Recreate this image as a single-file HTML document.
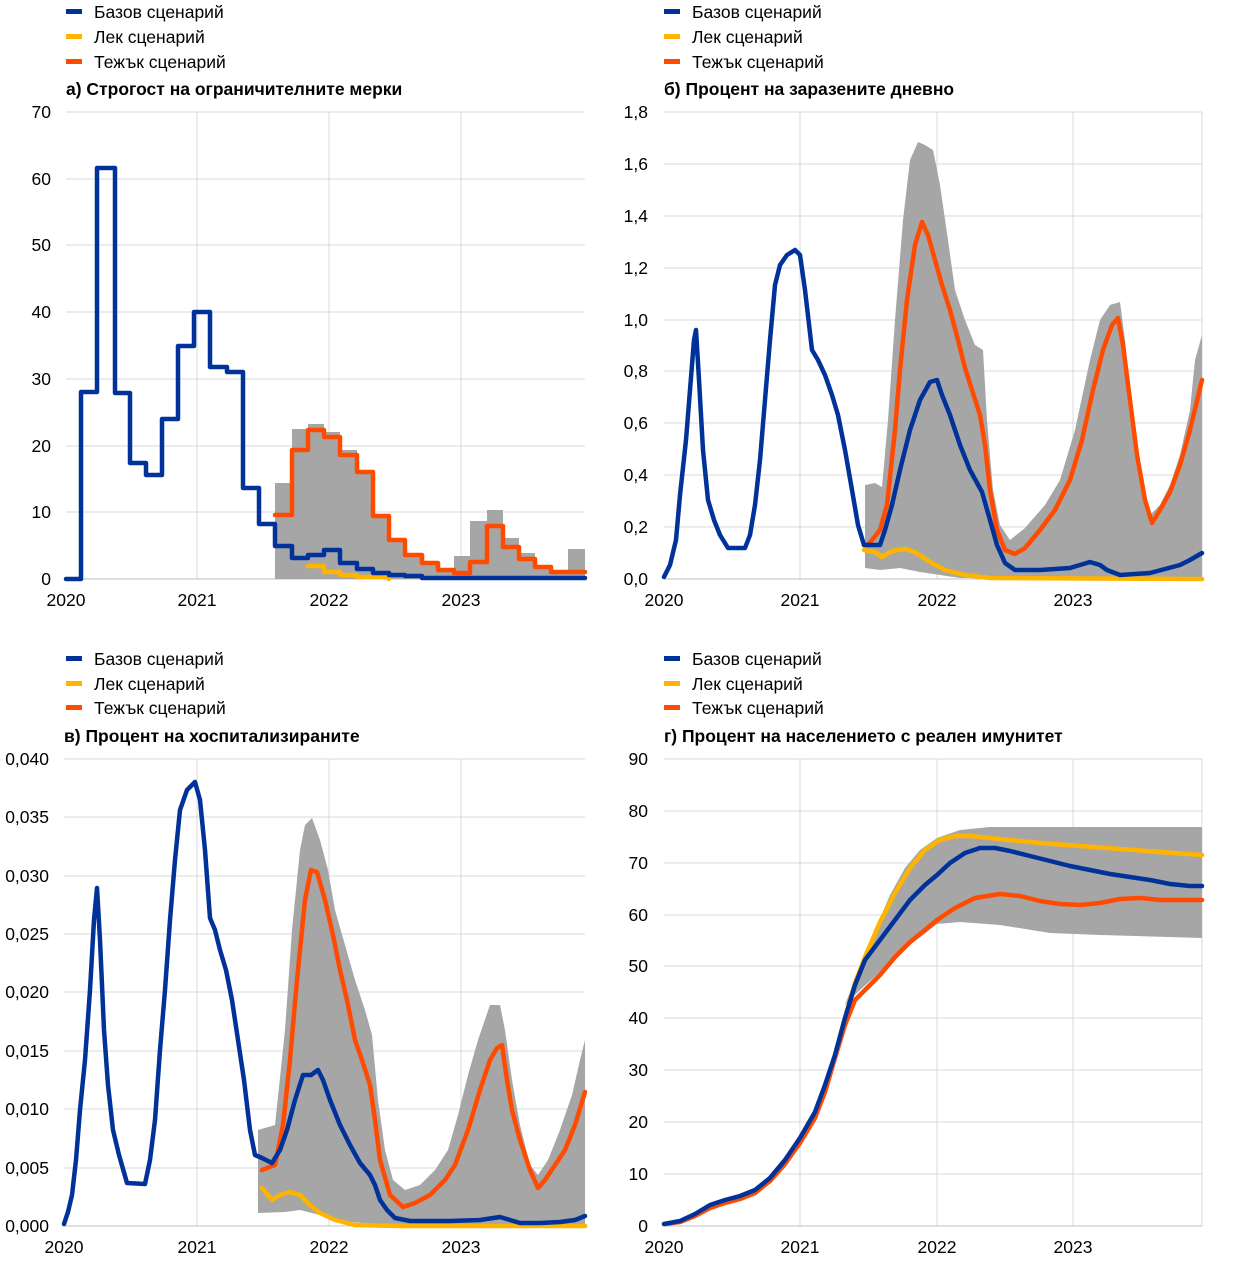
<!DOCTYPE html>
<html><head><meta charset="utf-8"><style>
html,body{margin:0;padding:0;background:#fff}
svg text{font-family:"Liberation Sans",sans-serif;font-size:17.5px;fill:#000}
.t{font-weight:bold;font-size:17.5px}
.g{stroke:#d9d9d9;stroke-width:1}
.l{fill:none;stroke-width:4.5;stroke-linejoin:round;stroke-linecap:round}
</style></head><body>
<svg width="1240" height="1270" viewBox="0 0 1240 1270" xmlns="http://www.w3.org/2000/svg">
<g>
<rect x="66" y="9" width="16" height="5" fill="#003299"/><text x="94" y="18">Базов сценарий</text>
<rect x="66" y="34" width="16" height="5" fill="#ffb400"/><text x="94" y="43">Лек сценарий</text>
<rect x="66" y="59" width="16" height="5" fill="#ff4b00"/><text x="94" y="68">Тежък сценарий</text>
<text class="t" x="66" y="95">а) Строгост на ограничителните мерки</text>
<rect x="664" y="9" width="16" height="5" fill="#003299"/><text x="692" y="18">Базов сценарий</text>
<rect x="664" y="34" width="16" height="5" fill="#ffb400"/><text x="692" y="43">Лек сценарий</text>
<rect x="664" y="59" width="16" height="5" fill="#ff4b00"/><text x="692" y="68">Тежък сценарий</text>
<text class="t" x="664" y="95">б) Процент на заразените дневно</text>
<rect x="66" y="656" width="16" height="5" fill="#003299"/><text x="94" y="665">Базов сценарий</text>
<rect x="66" y="681" width="16" height="5" fill="#ffb400"/><text x="94" y="690">Лек сценарий</text>
<rect x="66" y="705" width="16" height="5" fill="#ff4b00"/><text x="94" y="714">Тежък сценарий</text>
<text class="t" x="64" y="742">в) Процент на хоспитализираните</text>
<rect x="664" y="656" width="16" height="5" fill="#003299"/><text x="692" y="665">Базов сценарий</text>
<rect x="664" y="681" width="16" height="5" fill="#ffb400"/><text x="692" y="690">Лек сценарий</text>
<rect x="664" y="705" width="16" height="5" fill="#ff4b00"/><text x="692" y="714">Тежък сценарий</text>
<text class="t" x="664" y="742">г) Процент на населението с реален имунитет</text>
</g>

<!-- Panel a -->
<g>
<g class="g">
<line x1="66" y1="112" x2="585" y2="112"/><line x1="66" y1="179" x2="585" y2="179"/><line x1="66" y1="245" x2="585" y2="245"/><line x1="66" y1="312" x2="585" y2="312"/><line x1="66" y1="379" x2="585" y2="379"/><line x1="66" y1="446" x2="585" y2="446"/><line x1="66" y1="512" x2="585" y2="512"/>
<line x1="197" y1="112" x2="197" y2="579"/><line x1="329" y1="112" x2="329" y2="579"/><line x1="461" y1="112" x2="461" y2="579"/>
</g>
<line x1="66" y1="579" x2="585" y2="579" stroke="#bfbfbf"/>
<g text-anchor="end"><text x="51" y="118">70</text><text x="51" y="185">60</text><text x="51" y="251">50</text><text x="51" y="318">40</text><text x="51" y="385">30</text><text x="51" y="452">20</text><text x="51" y="518">10</text><text x="51" y="585">0</text></g>
<g text-anchor="middle"><text x="66" y="606">2020</text><text x="197" y="606">2021</text><text x="329" y="606">2022</text><text x="461" y="606">2023</text></g>
<polygon fill="#a6a6a6" points="275,579 275,483 292,483 292,429 308,429 308,424 324,424 324,432 340,432 340,450 357,450 357,470 373,470 373,515 389,515 389,540 405,540 405,555 422,555 422,563 438,563 438,570 454,570 454,556 470,556 470,521 487,521 487,510 503,510 503,538 519,538 519,553 535,553 535,565 551,565 551,570 568,570 568,549 585,549 585,579"/>
<polyline class="l" stroke="#ffb400" points="308,566 324,566 324,572 340,572 340,575 357,575 357,577 389,577 389,579"/>
<polyline class="l" stroke="#ff4b00" points="275,515 292,515 292,450 308,450 308,430 324,430 324,437 340,437 340,455 357,455 357,472 373,472 373,516 389,516 389,540 405,540 405,555 422,555 422,563 438,563 438,570 454,570 454,573 470,573 470,562 487,562 487,526 503,526 503,547 519,547 519,559 535,559 535,567 551,567 551,572 585,572"/>
<polyline class="l" stroke="#003299" points="66,579 81,579 81,392 97,392 97,168 115,168 115,393 130,393 130,463 146,463 146,475 162,475 162,419 178,419 178,346 194,346 194,312 210,312 210,367 227,367 227,372 243,372 243,488 259,488 259,524 275,524 275,546 292,546 292,558 308,558 308,555 324,555 324,550 340,550 340,563 357,563 357,569 373,569 373,573 389,573 389,575 405,575 405,576 422,576 422,578 585,578"/>
</g>

<!-- Panel b -->
<g>
<g class="g">
<line x1="664" y1="112" x2="1202" y2="112"/><line x1="664" y1="164" x2="1202" y2="164"/><line x1="664" y1="216" x2="1202" y2="216"/><line x1="664" y1="268" x2="1202" y2="268"/><line x1="664" y1="320" x2="1202" y2="320"/><line x1="664" y1="371" x2="1202" y2="371"/><line x1="664" y1="423" x2="1202" y2="423"/><line x1="664" y1="475" x2="1202" y2="475"/><line x1="664" y1="527" x2="1202" y2="527"/>
<line x1="800" y1="112" x2="800" y2="579"/><line x1="937" y1="112" x2="937" y2="579"/><line x1="1073" y1="112" x2="1073" y2="579"/><line x1="1202" y1="112" x2="1202" y2="579"/>
</g>
<line x1="664" y1="579" x2="1202" y2="579" stroke="#bfbfbf"/>
<g text-anchor="end"><text x="648" y="118">1,8</text><text x="648" y="170">1,6</text><text x="648" y="222">1,4</text><text x="648" y="274">1,2</text><text x="648" y="326">1,0</text><text x="648" y="377">0,8</text><text x="648" y="429">0,6</text><text x="648" y="481">0,4</text><text x="648" y="533">0,2</text><text x="648" y="585">0,0</text></g>
<g text-anchor="middle"><text x="664" y="606">2020</text><text x="800" y="606">2021</text><text x="937" y="606">2022</text><text x="1073" y="606">2023</text></g>
<polygon fill="#a6a6a6" points="865,485 875,483 882,487 888,420 895,320 903,220 910,160 918,142 925,145 933,150 940,185 948,240 955,290 965,320 975,345 983,350 987,420 993,490 1000,525 1010,540 1025,528 1045,505 1060,480 1075,430 1090,360 1100,320 1110,305 1120,302 1125,340 1133,420 1140,480 1150,515 1160,505 1170,485 1180,455 1190,410 1195,360 1202,335 1202,579 960,578 920,572 900,568 880,570 865,568"/>
<polyline class="l" stroke="#ffb400" points="864,550 875,552 882,557 892,551 905,549 915,552 930,562 945,570 965,575 990,578 1202,579"/>
<polyline class="l" stroke="#ff4b00" points="864,545 868,545 880,530 887,505 895,430 900,370 907,300 915,245 922,222 928,235 935,260 942,285 950,310 958,340 965,368 972,390 980,415 985,445 990,490 997,530 1005,550 1015,554 1025,548 1040,530 1055,510 1070,480 1082,440 1093,390 1103,350 1112,325 1118,318 1123,345 1130,400 1137,455 1145,500 1152,523 1160,510 1170,492 1180,465 1190,430 1202,380"/>
<polyline class="l" stroke="#003299" points="664,577 670,565 676,540 680,495 686,440 690,390 694,340 696,330 699,380 703,450 708,500 714,520 720,535 728,548 745,548 750,535 755,505 760,460 765,400 770,340 775,285 780,265 787,255 795,250 800,255 805,290 812,350 818,360 825,375 832,395 838,415 845,450 852,490 858,525 864,545 872,545 880,545 885,530 892,505 900,470 910,430 920,400 930,382 937,380 942,395 950,415 960,445 970,470 982,492 990,520 997,545 1005,563 1015,570 1040,570 1070,568 1090,562 1100,565 1107,570 1120,575 1150,573 1180,565 1190,560 1202,553"/>
</g>

<!-- Panel c -->
<g>
<g class="g">
<line x1="64" y1="759" x2="585" y2="759"/><line x1="64" y1="817" x2="585" y2="817"/><line x1="64" y1="876" x2="585" y2="876"/><line x1="64" y1="934" x2="585" y2="934"/><line x1="64" y1="992" x2="585" y2="992"/><line x1="64" y1="1051" x2="585" y2="1051"/><line x1="64" y1="1109" x2="585" y2="1109"/><line x1="64" y1="1168" x2="585" y2="1168"/>
<line x1="197" y1="759" x2="197" y2="1226"/><line x1="329" y1="759" x2="329" y2="1226"/><line x1="461" y1="759" x2="461" y2="1226"/>
</g>
<line x1="64" y1="1226" x2="585" y2="1226" stroke="#bfbfbf"/>
<g text-anchor="end"><text x="49" y="765">0,040</text><text x="49" y="823">0,035</text><text x="49" y="882">0,030</text><text x="49" y="940">0,025</text><text x="49" y="998">0,020</text><text x="49" y="1057">0,015</text><text x="49" y="1115">0,010</text><text x="49" y="1174">0,005</text><text x="49" y="1232">0,000</text></g>
<g text-anchor="middle"><text x="64" y="1253">2020</text><text x="197" y="1253">2021</text><text x="329" y="1253">2022</text><text x="461" y="1253">2023</text></g>
<polygon fill="#a6a6a6" points="258,1130 275,1125 285,1030 292,930 300,850 305,825 312,818 320,840 328,870 335,910 345,945 355,980 365,1010 372,1035 378,1100 385,1150 393,1180 405,1190 420,1185 435,1170 448,1150 458,1115 468,1075 478,1040 490,1005 500,1005 505,1030 512,1080 520,1125 530,1165 538,1175 548,1160 560,1130 572,1095 580,1060 585,1040 585,1226 400,1226 350,1222 320,1215 300,1210 285,1212 258,1213"/>
<polyline class="l" stroke="#ffb400" points="262,1188 272,1200 280,1195 290,1192 300,1195 310,1205 320,1213 335,1220 355,1225 400,1226 585,1226"/>
<polyline class="l" stroke="#ff4b00" points="262,1170 275,1165 283,1125 290,1060 297,980 305,900 311,870 317,872 325,900 333,935 340,970 347,1000 355,1040 362,1060 370,1085 375,1120 380,1160 390,1195 403,1207 415,1203 430,1195 445,1180 455,1165 468,1130 480,1090 490,1060 497,1048 502,1045 507,1080 512,1110 520,1140 530,1170 538,1188 545,1180 555,1165 565,1150 575,1125 585,1092"/>
<polyline class="l" stroke="#003299" points="64,1224 68,1212 72,1195 76,1160 80,1110 85,1060 90,990 94,920 97,888 100,940 104,1030 108,1085 113,1130 119,1155 127,1183 145,1184 150,1160 155,1120 160,1050 165,990 170,920 175,860 180,810 187,790 195,782 200,800 205,850 210,918 215,930 220,950 226,970 232,1000 238,1040 244,1080 250,1130 255,1155 262,1158 272,1163 280,1150 287,1130 295,1100 303,1075 311,1075 318,1070 323,1080 330,1100 340,1125 350,1145 360,1163 370,1175 375,1185 380,1200 387,1210 395,1218 410,1221 450,1221 480,1220 500,1217 510,1220 520,1223 540,1223 560,1222 575,1220 585,1216"/>
</g>

<!-- Panel d -->
<g>
<g class="g">
<line x1="664" y1="759" x2="1202" y2="759"/><line x1="664" y1="811" x2="1202" y2="811"/><line x1="664" y1="863" x2="1202" y2="863"/><line x1="664" y1="915" x2="1202" y2="915"/><line x1="664" y1="966" x2="1202" y2="966"/><line x1="664" y1="1018" x2="1202" y2="1018"/><line x1="664" y1="1070" x2="1202" y2="1070"/><line x1="664" y1="1122" x2="1202" y2="1122"/><line x1="664" y1="1174" x2="1202" y2="1174"/>
<line x1="800" y1="759" x2="800" y2="1226"/><line x1="937" y1="759" x2="937" y2="1226"/><line x1="1073" y1="759" x2="1073" y2="1226"/><line x1="1202" y1="759" x2="1202" y2="1226"/>
</g>
<line x1="664" y1="1226" x2="1202" y2="1226" stroke="#bfbfbf"/>
<g text-anchor="end"><text x="648" y="765">90</text><text x="648" y="817">80</text><text x="648" y="869">70</text><text x="648" y="921">60</text><text x="648" y="972">50</text><text x="648" y="1024">40</text><text x="648" y="1076">30</text><text x="648" y="1128">20</text><text x="648" y="1180">10</text><text x="648" y="1232">0</text></g>
<g text-anchor="middle"><text x="664" y="1253">2020</text><text x="800" y="1253">2021</text><text x="937" y="1253">2022</text><text x="1073" y="1253">2023</text></g>
<polygon fill="#a6a6a6" points="845,1005 860,965 875,930 890,895 905,868 920,850 937,838 960,830 990,827 1202,827 1202,938 1100,935 1050,933 1000,925 960,922 937,924 910,945 880,972 860,990"/>
<polyline class="l" stroke="#ff4b00" points="664,1224 680,1222 695,1216 710,1208 725,1203 740,1199 755,1193 770,1181 785,1164 800,1143 815,1118 825,1092 835,1058 845,1025 855,1000 865,990 880,975 895,957 910,942 925,930 937,920 955,908 975,898 1000,894 1020,896 1040,901 1060,904 1080,905 1100,903 1120,899 1140,898 1160,900 1202,900"/>
<polyline class="l" stroke="#ffb400" points="835,1055 845,1018 855,983 865,957 880,922 895,893 910,868 925,850 940,840 955,836 970,836 1000,839 1040,843 1080,846 1120,849 1160,852 1202,855"/>
<polyline class="l" stroke="#003299" points="664,1224 680,1221 695,1214 710,1205 725,1200 740,1196 755,1190 770,1178 785,1160 800,1138 815,1112 825,1085 835,1055 845,1018 855,985 865,960 880,940 895,920 910,900 925,885 937,875 950,863 965,853 980,848 995,848 1010,851 1030,856 1050,861 1070,866 1090,870 1110,874 1130,877 1150,880 1170,884 1190,886 1202,886"/>
</g>
</svg>
</body></html>
